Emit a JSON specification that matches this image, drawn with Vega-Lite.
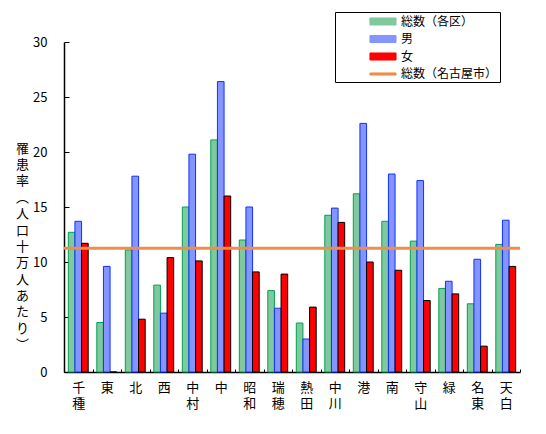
{
  "$schema": "https://vega.github.io/schema/vega-lite/v6.json",
  "description": "区別罹患率（人口十万人あたり）",
  "autosize": {"type": "none"},
  "padding": {"left": 64, "top": 42, "right": 26, "bottom": 62},
  "width": 456,
  "height": 330,
  "datasets": {
    "bars": [
      {"ku": "千種", "series": "総数（各区）", "rate": 12.7},
      {"ku": "千種", "series": "男", "rate": 13.7},
      {"ku": "千種", "series": "女", "rate": 11.7},
      {"ku": "東", "series": "総数（各区）", "rate": 4.5},
      {"ku": "東", "series": "男", "rate": 9.6},
      {"ku": "東", "series": "女", "rate": 0},
      {"ku": "北", "series": "総数（各区）", "rate": 11.1},
      {"ku": "北", "series": "男", "rate": 17.8},
      {"ku": "北", "series": "女", "rate": 4.8},
      {"ku": "西", "series": "総数（各区）", "rate": 7.9},
      {"ku": "西", "series": "男", "rate": 5.35},
      {"ku": "西", "series": "女", "rate": 10.4},
      {"ku": "中村", "series": "総数（各区）", "rate": 15.0},
      {"ku": "中村", "series": "男", "rate": 19.8},
      {"ku": "中村", "series": "女", "rate": 10.1},
      {"ku": "中", "series": "総数（各区）", "rate": 21.1},
      {"ku": "中", "series": "男", "rate": 26.4},
      {"ku": "中", "series": "女", "rate": 16.0},
      {"ku": "昭和", "series": "総数（各区）", "rate": 12.0},
      {"ku": "昭和", "series": "男", "rate": 15.0},
      {"ku": "昭和", "series": "女", "rate": 9.1},
      {"ku": "瑞穂", "series": "総数（各区）", "rate": 7.4},
      {"ku": "瑞穂", "series": "男", "rate": 5.8},
      {"ku": "瑞穂", "series": "女", "rate": 8.9},
      {"ku": "熱田", "series": "総数（各区）", "rate": 4.45},
      {"ku": "熱田", "series": "男", "rate": 3.0},
      {"ku": "熱田", "series": "女", "rate": 5.9},
      {"ku": "中川", "series": "総数（各区）", "rate": 14.25},
      {"ku": "中川", "series": "男", "rate": 14.9},
      {"ku": "中川", "series": "女", "rate": 13.6},
      {"ku": "港", "series": "総数（各区）", "rate": 16.2},
      {"ku": "港", "series": "男", "rate": 22.6},
      {"ku": "港", "series": "女", "rate": 10.0},
      {"ku": "南", "series": "総数（各区）", "rate": 13.7},
      {"ku": "南", "series": "男", "rate": 18.0},
      {"ku": "南", "series": "女", "rate": 9.25},
      {"ku": "守山", "series": "総数（各区）", "rate": 11.9},
      {"ku": "守山", "series": "男", "rate": 17.4},
      {"ku": "守山", "series": "女", "rate": 6.5},
      {"ku": "緑", "series": "総数（各区）", "rate": 7.6},
      {"ku": "緑", "series": "男", "rate": 8.25},
      {"ku": "緑", "series": "女", "rate": 7.1},
      {"ku": "名東", "series": "総数（各区）", "rate": 6.2},
      {"ku": "名東", "series": "男", "rate": 10.25},
      {"ku": "名東", "series": "女", "rate": 2.35},
      {"ku": "天白", "series": "総数（各区）", "rate": 11.6},
      {"ku": "天白", "series": "男", "rate": 13.8},
      {"ku": "天白", "series": "女", "rate": 9.6}
    ],
    "city": [
      {"series": "総数（名古屋市）", "rate": 11.25}
    ]
  },
  "layer": [
    {
      "data": {"name": "bars"},
      "mark": {"type": "bar", "strokeWidth": 1, "strokeJoin": "miter"},
      "encoding": {
        "x": {
          "field": "ku",
          "type": "nominal",
          "sort": ["千種", "東", "北", "西", "中村", "中", "昭和", "瑞穂", "熱田", "中川", "港", "南", "守山", "緑", "名東", "天白"],
          "scale": {"paddingInner": 0, "paddingOuter": 0},
          "axis": {
            "title": null,
            "labelAngle": 0,
            "labelExpr": "split(datum.label, '')",
            "labelLineHeight": 16,
            "labelPadding": 12,
            "labelBaseline": "top",
            "tickBand": "extent",
            "tickSize": -3,
            "domainColor": "black",
            "domainWidth": 1.5
          }
        },
        "xOffset": {
          "field": "series",
          "type": "nominal",
          "sort": ["総数（各区）", "男", "女"],
          "scale": {"paddingInner": 0, "paddingOuter": 0.65}
        },
        "y": {
          "field": "rate",
          "type": "quantitative",
          "scale": {"domain": [0, 30], "nice": false},
          "axis": {
            "title": ["罹", "患", "率", "︵", "人", "口", "十", "万", "人", "あ", "た", "り", "︶"],
            "titleAngle": 0,
            "titleX": -42,
            "titleY": 106,
            "titleAlign": "center",
            "titleBaseline": "middle",
            "titleLineHeight": 16.4,
            "titleFontSize": 13,
            "titleFontWeight": "normal",
            "values": [0, 5, 10, 15, 20, 25, 30],
            "tickSize": -5,
            "labelPadding": 22,
            "grid": false,
            "domainColor": "black",
            "domainWidth": 1.5
          }
        },
        "color": {
          "field": "series",
          "type": "nominal",
          "scale": {
            "domain": ["総数（各区）", "男", "女", "総数（名古屋市）"],
            "range": ["#80c99f", "#8495ff", "#ff0000", "#f28c4a"]
          },
          "legend": {
            "title": null,
            "orient": "none",
            "legendX": 271,
            "legendY": -30,
            "strokeColor": "black",
            "padding": 2,
            "symbolOffset": 38.5,
            "symbolType": "M-2,-0.54H2V0.54H-2Z",
            "symbolSize": 170,
            "symbolStrokeWidth": 1,
            "labelFontSize": 12,
            "labelOffset": 10.5,
            "rowPadding": 3.5,
            "labelExpr": "datum.label + '　　　'",
            "encode": {
              "symbols": {
                "update": {
                  "stroke": {"signal": "datum.value === '総数（各区）' ? '#00a050' : datum.value === '男' ? '#1030ff' : datum.value === '女' ? 'black' : '#f28c4a'"},
                  "shape": {"signal": "datum.value === '総数（名古屋市）' ? 'M-2,-0.16H2V0.16H-2Z' : 'M-2,-0.54H2V0.54H-2Z'"}
                }
              }
            }
          }
        },
        "stroke": {
          "field": "series",
          "type": "nominal",
          "scale": {
            "domain": ["総数（各区）", "男", "女"],
            "range": ["#00a050", "#1030ff", "#000000"]
          },
          "legend": null
        }
      }
    },
    {
      "data": {"name": "city"},
      "mark": {"type": "rule", "strokeWidth": 3},
      "encoding": {
        "y": {"field": "rate", "type": "quantitative"},
        "color": {"field": "series", "type": "nominal"}
      }
    }
  ],
  "config": {
    "font": "Noto Sans CJK JP",
    "view": {"stroke": null},
    "axis": {
      "labelFontSize": 13,
      "labelColor": "black",
      "tickColor": "black",
      "titleColor": "black",
      "labelFont": "Noto Sans CJK JP"
    },
    "legend": {"labelColor": "black", "labelFont": "Noto Sans CJK JP"}
  }
}
